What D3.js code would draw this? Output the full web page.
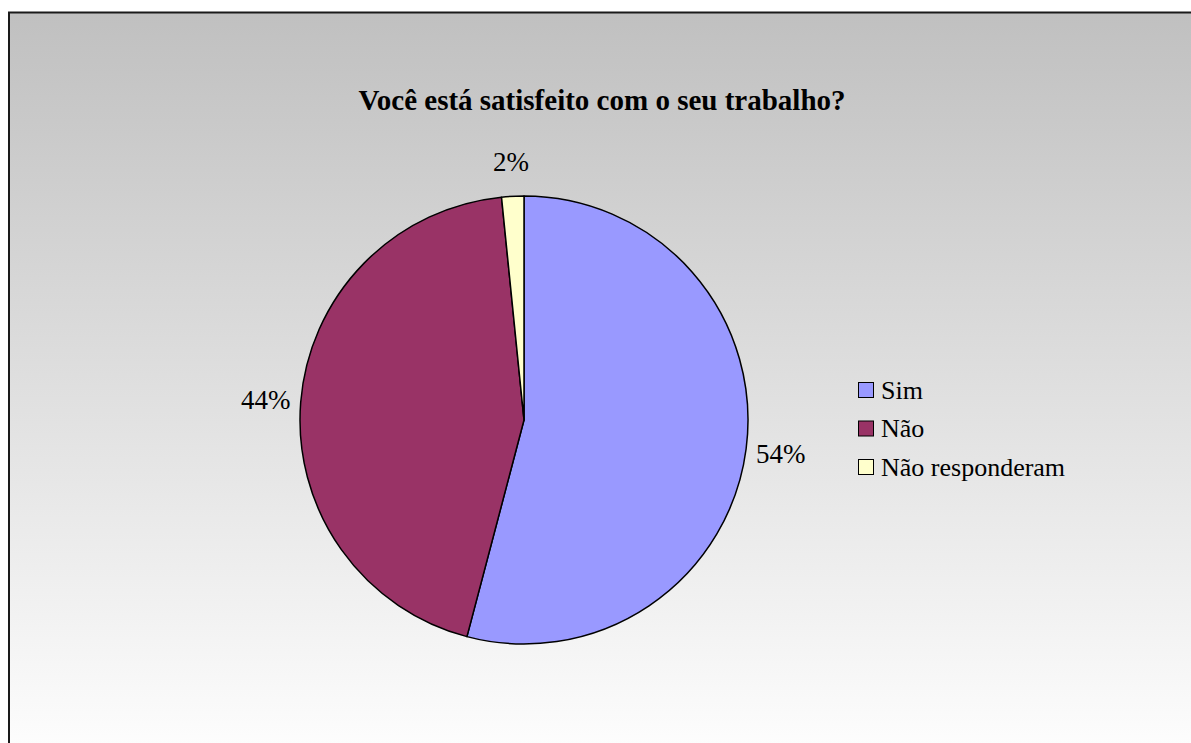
<!DOCTYPE html>
<html><head><meta charset="utf-8">
<script src="https://cdn.jsdelivr.net/npm/d3@7"></script>
<style>html,body{margin:0;padding:0;background:#fff;overflow:hidden}</style>
</head><body>
<svg id="c" width="1191" height="743"></svg>
<script>
const categories = ["Sim", "Não", "Não responderam"];
const values = [54.1, 44.3, 1.6];
const labels = ["54%", "44%", "2%"];
const colors = ["#9999FF", "#993366", "#FFFFCC"];
const title = "Você está satisfeito com o seu trabalho?";

const FONT = "'Liberation Serif','Times New Roman',serif";
const svg = d3.select("#c");
const defs = svg.append("defs");
const g = defs.append("linearGradient").attr("id","bg").attr("x1",0).attr("y1",0).attr("x2",0).attr("y2",1);
g.append("stop").attr("offset","0%").attr("stop-color","#c0c0c0");
g.append("stop").attr("offset","100%").attr("stop-color","#ffffff");

svg.append("rect").attr("x",9).attr("y",12.5).attr("width",1200).attr("height",760)
  .attr("fill","url(#bg)").attr("stroke","#1a1a1a").attr("stroke-width",2);

svg.append("text").attr("x",602).attr("y",110).attr("text-anchor","middle")
  .attr("font-family",FONT).attr("font-weight","bold")
  .attr("font-size",29).attr("fill","#000").text(title);

const cx = 524, cy = 420, r = 224;
const pie = d3.pie().sort(null).value(d=>d);
const arcs = pie(values);
const arc = d3.arc().innerRadius(0).outerRadius(r);
const labelArc = d3.arc().innerRadius(259).outerRadius(259);
const pg = svg.append("g").attr("transform",`translate(${cx},${cy})`);
pg.selectAll("path").data(arcs).join("path")
  .attr("d",arc).attr("fill",(d,i)=>colors[i]).attr("stroke","#000").attr("stroke-width",1.5)
  .attr("stroke-linejoin","round");
pg.selectAll("text").data(arcs).join("text")
  .attr("transform",d=>`translate(${labelArc.centroid(d)})`)
  .attr("text-anchor","middle").attr("dy","0.35em")
  .attr("font-family",FONT).attr("font-size",27)
  .attr("fill","#000").text((d,i)=>labels[i]);

const lg = svg.append("g").attr("transform","translate(858,382)");
const items = lg.selectAll("g").data(categories).join("g")
  .attr("transform",(d,i)=>`translate(0,${i*38.5})`);
items.append("rect").attr("x",0.5).attr("y",0.5).attr("width",15).attr("height",15)
  .attr("fill",(d,i)=>colors[i]).attr("stroke","#000").attr("stroke-width",1);
items.append("text").attr("x",23).attr("y",16.5)
  .attr("font-family",FONT).attr("font-size",26)
  .attr("fill","#000").text(d=>d);
</script>
</body></html>
